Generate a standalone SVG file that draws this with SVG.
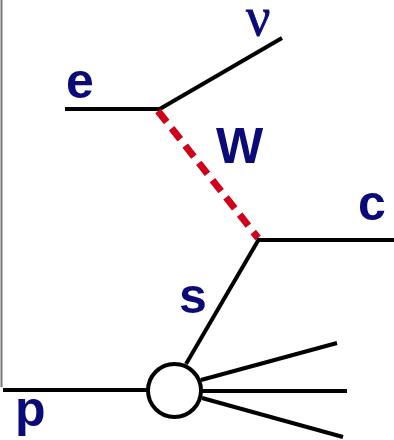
<svg xmlns="http://www.w3.org/2000/svg" width="394" height="440" viewBox="0 0 394 440">
<style>
.ln{stroke:#000;stroke-width:4;fill:none;stroke-linecap:butt}
.lb{font-family:"Liberation Sans",Arial,sans-serif;font-weight:bold;font-size:50px;fill:#0a0a78}
.gk{font-family:"Liberation Serif","Times New Roman",serif;font-size:54px;fill:#0a0a78;stroke:#0a0a78;stroke-width:0.8}
</style>
<rect width="394" height="440" fill="#fff"/>
<line x1="1.5" y1="0" x2="1.5" y2="387" stroke="#777" stroke-width="2"/>
<g id="connectors">
<line class="ln" x1="65" y1="109" x2="160" y2="109"/>
<line class="ln" x1="158" y1="110" x2="282" y2="38"/>
<line x1="158" y1="111" x2="258" y2="238" stroke="#d0021b" stroke-width="7" stroke-dasharray="14 8"/>
<line class="ln" x1="257" y1="240" x2="394" y2="240"/>
<line class="ln" x1="259" y1="239" x2="186" y2="364"/>
<line class="ln" x1="3" y1="390" x2="147" y2="390"/>
<line class="ln" x1="201" y1="380" x2="337" y2="343"/>
<line class="ln" x1="202" y1="391" x2="347" y2="391"/>
<line class="ln" x1="202" y1="398" x2="343" y2="437"/>
</g>
<g id="vertex"><circle class="ln" cx="174.5" cy="390.5" r="26.5" fill="#fff"/></g>
<g id="label-e"><text class="lb" x="66" y="98">e</text></g>
<g id="label-nu"><text class="gk" x="246" y="35">ν</text></g>
<g id="label-W"><text class="lb" x="216" y="163">W</text></g>
<g id="label-c"><text class="lb" x="358" y="220">c</text></g>
<g id="label-s"><text class="lb" x="179" y="313">s</text></g>
<g id="label-p"><text class="lb" x="15" y="426">p</text></g>
</svg>
